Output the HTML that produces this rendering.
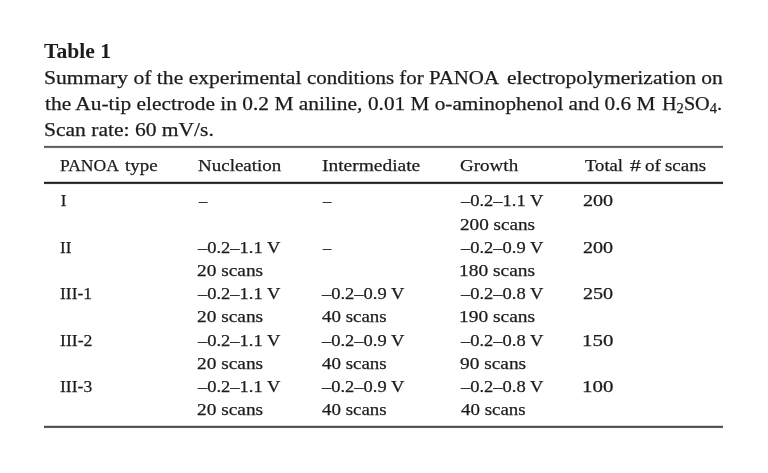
<!DOCTYPE html>
<html><head><meta charset="utf-8">
<style>
html,body{margin:0;padding:0;background:#fff;}
body{width:768px;height:473px;position:relative;overflow:hidden;filter:grayscale(1);font-family:"Liberation Serif",serif;color:#1c1c1c;}
.t{position:absolute;white-space:nowrap;line-height:1;transform-origin:0 0;-webkit-text-stroke:0.25px #1c1c1c;}
.rule{position:absolute;left:44px;width:679px;}
sub{font-size:0.72em;vertical-align:-0.22em;line-height:0;}
</style></head><body>
<div class="t" id="e0" style="left:44.00px;top:41.25px;font-size:20px;font-weight:bold;-webkit-text-stroke:0;transform:scaleX(1.0792);">Table 1</div>
<div class="t" id="e1" style="left:43.74px;top:68.17px;font-size:19.5px;transform:scaleX(1.1081);">Summary of the experimental</div>
<div class="t" id="e2" style="left:307.40px;top:68.17px;font-size:19.5px;transform:scaleX(1.0720);">conditions for PANOA</div>
<div class="t" id="e3" style="left:506.59px;top:68.17px;font-size:19.5px;transform:scaleX(1.1045);">electropolymerization on</div>
<div class="t" id="e4" style="left:45.15px;top:93.97px;font-size:19.5px;transform:scaleX(1.0974);">the Au-tip electrode in 0.2 M aniline,</div>
<div class="t" id="e5" style="left:368.20px;top:93.97px;font-size:19.5px;transform:scaleX(1.0894);">0.01 M o-aminophenol and 0.6 M</div>
<div class="t" id="e6" style="left:661.86px;top:93.97px;font-size:19.5px;transform:scaleX(1.0366);">H<sub>2</sub>SO<sub>4</sub>.</div>
<div class="t" id="e7" style="left:43.73px;top:119.87px;font-size:19.5px;transform:scaleX(1.1043);">Scan rate: 60 mV/s.</div>
<div class="t" id="e8" style="left:59.97px;top:156.76px;font-size:17px;transform:scaleX(1.0336);">PANOA</div>
<div class="t" id="e9" style="left:124.58px;top:156.76px;font-size:17px;transform:scaleX(1.1113);">type</div>
<div class="t" id="e10" style="left:197.56px;top:156.76px;font-size:17px;transform:scaleX(1.1170);">Nucleation</div>
<div class="t" id="e11" style="left:321.72px;top:156.76px;font-size:17px;transform:scaleX(1.1437);">Intermediate</div>
<div class="t" id="e12" style="left:459.55px;top:156.76px;font-size:17px;transform:scaleX(1.1195);">Growth</div>
<div class="t" id="e13" style="left:584.74px;top:156.76px;font-size:17px;transform:scaleX(1.0965);">Total</div>
<div class="t" id="e14" style="left:629.76px;top:156.76px;font-size:17px;transform:scaleX(1.2770);">#</div>
<div class="t" id="e15" style="left:645.40px;top:156.76px;font-size:17px;transform:scaleX(1.1231);">of</div>
<div class="t" id="e16" style="left:665.36px;top:156.76px;font-size:17px;transform:scaleX(1.1134);">scans</div>
<div class="t" id="e17" style="left:60.70px;top:192.06px;font-size:17px;">I</div>
<div class="t" id="e18" style="left:198.56px;top:192.06px;font-size:17px;transform:scaleX(0.9637);">–</div>
<div class="t" id="e19" style="left:322.56px;top:192.06px;font-size:17px;transform:scaleX(0.9637);">–</div>
<div class="t" id="e20" style="left:460.79px;top:192.06px;font-size:17px;transform:scaleX(1.0875);">–0.2–1.1 V</div>
<div class="t" id="e21" style="left:459.97px;top:216.06px;font-size:17px;transform:scaleX(1.1277);">200 scans</div>
<div class="t" id="e22" style="left:582.93px;top:192.06px;font-size:17px;transform:scaleX(1.1829);">200</div>
<div class="t" id="e23" style="left:60.00px;top:238.76px;font-size:17px;">II</div>
<div class="t" id="e24" style="left:198.18px;top:238.76px;font-size:17px;transform:scaleX(1.0875);">–0.2–1.1 V</div>
<div class="t" id="e25" style="left:197.38px;top:261.96px;font-size:17px;transform:scaleX(1.1380);">20 scans</div>
<div class="t" id="e26" style="left:322.56px;top:238.76px;font-size:17px;transform:scaleX(0.9637);">–</div>
<div class="t" id="e27" style="left:460.79px;top:238.76px;font-size:17px;transform:scaleX(1.0875);">–0.2–0.9 V</div>
<div class="t" id="e28" style="left:458.91px;top:261.96px;font-size:17px;transform:scaleX(1.1438);">180 scans</div>
<div class="t" id="e29" style="left:582.93px;top:238.76px;font-size:17px;transform:scaleX(1.1829);">200</div>
<div class="t" id="e30" style="left:60.16px;top:285.06px;font-size:17px;transform:scaleX(1.0271);">III-1</div>
<div class="t" id="e31" style="left:198.18px;top:285.06px;font-size:17px;transform:scaleX(1.0875);">–0.2–1.1 V</div>
<div class="t" id="e32" style="left:197.38px;top:308.46px;font-size:17px;transform:scaleX(1.1380);">20 scans</div>
<div class="t" id="e33" style="left:322.18px;top:285.06px;font-size:17px;transform:scaleX(1.0875);">–0.2–0.9 V</div>
<div class="t" id="e34" style="left:322.41px;top:308.46px;font-size:17px;transform:scaleX(1.1120);">40 scans</div>
<div class="t" id="e35" style="left:460.79px;top:285.06px;font-size:17px;transform:scaleX(1.0875);">–0.2–0.8 V</div>
<div class="t" id="e36" style="left:458.91px;top:308.46px;font-size:17px;transform:scaleX(1.1438);">190 scans</div>
<div class="t" id="e37" style="left:582.93px;top:285.06px;font-size:17px;transform:scaleX(1.1829);">250</div>
<div class="t" id="e38" style="left:60.15px;top:331.56px;font-size:17px;transform:scaleX(1.0418);">III-2</div>
<div class="t" id="e39" style="left:198.18px;top:331.56px;font-size:17px;transform:scaleX(1.0875);">–0.2–1.1 V</div>
<div class="t" id="e40" style="left:197.38px;top:354.76px;font-size:17px;transform:scaleX(1.1380);">20 scans</div>
<div class="t" id="e41" style="left:322.18px;top:331.56px;font-size:17px;transform:scaleX(1.0875);">–0.2–0.9 V</div>
<div class="t" id="e42" style="left:322.41px;top:354.76px;font-size:17px;transform:scaleX(1.1120);">40 scans</div>
<div class="t" id="e43" style="left:460.79px;top:331.56px;font-size:17px;transform:scaleX(1.0875);">–0.2–0.8 V</div>
<div class="t" id="e44" style="left:459.97px;top:354.76px;font-size:17px;transform:scaleX(1.1380);">90 scans</div>
<div class="t" id="e45" style="left:581.79px;top:331.56px;font-size:17px;transform:scaleX(1.2284);">150</div>
<div class="t" id="e46" style="left:60.17px;top:377.76px;font-size:17px;transform:scaleX(1.0363);">III-3</div>
<div class="t" id="e47" style="left:198.18px;top:377.76px;font-size:17px;transform:scaleX(1.0875);">–0.2–1.1 V</div>
<div class="t" id="e48" style="left:197.38px;top:400.96px;font-size:17px;transform:scaleX(1.1380);">20 scans</div>
<div class="t" id="e49" style="left:322.18px;top:377.76px;font-size:17px;transform:scaleX(1.0875);">–0.2–0.9 V</div>
<div class="t" id="e50" style="left:322.41px;top:400.96px;font-size:17px;transform:scaleX(1.1120);">40 scans</div>
<div class="t" id="e51" style="left:460.79px;top:377.76px;font-size:17px;transform:scaleX(1.0875);">–0.2–0.8 V</div>
<div class="t" id="e52" style="left:461.00px;top:400.96px;font-size:17px;transform:scaleX(1.1120);">40 scans</div>
<div class="t" id="e53" style="left:581.79px;top:377.76px;font-size:17px;transform:scaleX(1.2284);">100</div>
<div class="rule" style="top:145px;height:1px;background:#ececec"></div>
<div class="rule" style="top:146px;height:1px;background:#5c5c5c"></div>
<div class="rule" style="top:147px;height:1px;background:#707070"></div>
<div class="rule" style="top:148px;height:1px;background:#f4f4f4"></div>
<div class="rule" style="top:181px;height:1px;background:#d4d4d4"></div>
<div class="rule" style="top:182px;height:1px;background:#202020"></div>
<div class="rule" style="top:183px;height:1px;background:#383838"></div>
<div class="rule" style="top:184px;height:1px;background:#f2f2f2"></div>
<div class="rule" style="top:425px;height:1px;background:#dcdcdc"></div>
<div class="rule" style="top:426px;height:1px;background:#4a4a4a"></div>
<div class="rule" style="top:427px;height:1px;background:#5e5e5e"></div>
<div class="rule" style="top:428px;height:1px;background:#f6f6f6"></div>
</body></html>
